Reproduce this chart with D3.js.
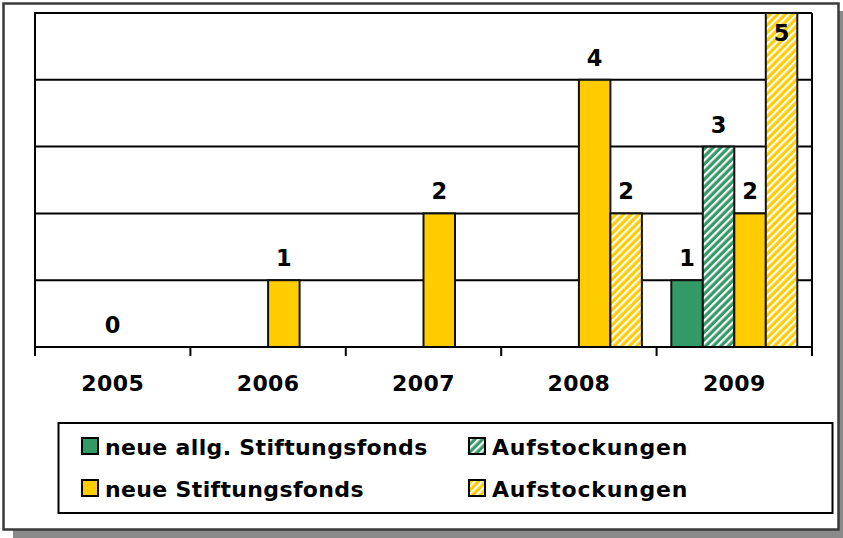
<!DOCTYPE html>
<html>
<head>
<meta charset="utf-8">
<script src="https://cdn.jsdelivr.net/npm/d3@7"></script>
<style>
  html, body { margin: 0; padding: 0; background: #ffffff; }
  svg { display: block; }
  text { font-family: "DejaVu Sans", Verdana, sans-serif; font-weight: bold; }
</style>
</head>
<body>
<svg id="chart" width="843" height="538"></svg>
<script>
// ---- data ----
const years = ["2005", "2006", "2007", "2008", "2009"];
const seriesIds = ["neueAllg", "aufstockAllg", "neue", "aufstockNeue"];
const seriesNames = ["neue allg. Stiftungsfonds", "Aufstockungen", "neue Stiftungsfonds", "Aufstockungen"];
const neueAllg     = [0, 0, 0, 0, 1];
const aufstockAllg = [0, 0, 0, 0, 3];
const neue         = [0, 1, 2, 4, 2];
const aufstockNeue = [0, 0, 0, 2, 5];
const yTicks = [0, 1, 2, 3, 4, 5];

// ---- styles ----
const green = "#339966", yellow = "#FFCC00";
const fills = {
  neueAllg: green,
  aufstockAllg: "url(#hatchGreen)",
  neue: yellow,
  aufstockNeue: "url(#hatchYellow)"
};
const valuesBySeries = { neueAllg, aufstockAllg, neue, aufstockNeue };

const svg = d3.select("#chart");
const defs = svg.append("defs");
function hatch(id, color) {
  const w = 5.4;
  const p = defs.append("pattern").attr("id", id)
    .attr("patternUnits", "userSpaceOnUse")
    .attr("width", w).attr("height", w)
    .attr("patternTransform", "rotate(45)");
  p.append("rect").attr("width", w).attr("height", w).attr("fill", color);
  p.append("rect").attr("x", 0).attr("width", 2.2).attr("height", w).attr("fill", "#ffffff");
}
hatch("hatchGreen", green);
hatch("hatchYellow", yellow);

// frame + shadow
svg.append("rect").attr("x", 13).attr("y", 11).attr("width", 840).attr("height", 540).attr("fill", "#8a8a8a");
svg.append("rect").attr("x", 3.5).attr("y", 3.5).attr("width", 835).attr("height", 526)
  .attr("fill", "#ffffff").attr("stroke", "#3a3a3a").attr("stroke-width", 2.5);

// ---- scales ----
const plotL = 35, plotR = 812, plotT = 13, plotB = 347;
const x0 = d3.scaleBand().domain(years).range([plotL, plotR]).padding(0);
const x1 = d3.scaleBand().domain(seriesIds).range([0, x0.bandwidth()]).paddingInner(0).paddingOuter(0.467);
const y = d3.scaleLinear().domain([0, 5]).range([plotB, plotT]);

// gridlines
const g = svg.append("g");
g.selectAll("line.grid").data(yTicks.filter(t => t > 0)).join("line")
  .attr("x1", plotL).attr("x2", plotR)
  .attr("y1", d => y(d)).attr("y2", d => y(d))
  .attr("stroke", "#000").attr("stroke-width", 2);
// right border
g.append("line").attr("x1", plotR).attr("x2", plotR).attr("y1", plotT).attr("y2", plotB)
  .attr("stroke", "#000").attr("stroke-width", 2);

// bars
const barData = [];
years.forEach((yr, i) => {
  seriesIds.forEach(s => barData.push({ year: yr, s, v: valuesBySeries[s][i] }));
});
svg.append("g").selectAll("rect").data(barData.filter(d => d.v > 0)).join("rect")
  .attr("x", d => x0(d.year) + x1(d.s))
  .attr("y", d => y(d.v))
  .attr("width", x1.bandwidth())
  .attr("height", d => y(0) - y(d.v))
  .attr("fill", d => fills[d.s])
  .attr("stroke", "#111").attr("stroke-width", 2);

// left axis line
svg.append("line").attr("x1", plotL).attr("x2", plotL).attr("y1", plotT - 1).attr("y2", plotB + 1)
  .attr("stroke", "#000").attr("stroke-width", 2);

// x axis
const xAxis = d3.axisBottom(x0).tickSize(0).tickPadding(0);
const ax = svg.append("g").attr("transform", `translate(0,${plotB})`).call(xAxis);
ax.select(".domain").remove();
ax.selectAll("text").attr("font-size", 22).attr("fill", "#000")
  .attr("dy", 0).attr("y", 44).attr("font-family", "DejaVu Sans").attr("font-weight", "bold")
  .attr("letter-spacing", 0.4);
svg.append("line").attr("x1", plotL - 1).attr("x2", plotR + 1).attr("y1", plotB).attr("y2", plotB)
  .attr("stroke", "#000").attr("stroke-width", 2);
const boundaries = years.map(d => x0(d)).concat([x0(years[years.length - 1]) + x0.bandwidth()]);
svg.append("g").selectAll("line").data(boundaries).join("line")
  .attr("x1", d => d).attr("x2", d => d).attr("y1", plotB).attr("y2", plotB + 9)
  .attr("stroke", "#000").attr("stroke-width", 2);

// value labels
const labels = svg.append("g").attr("font-size", 22.5).attr("text-anchor", "middle").attr("fill", "#000");
labels.selectAll("text.v").data(barData.filter(d => d.v > 0)).join("text")
  .attr("x", d => x0(d.year) + x1(d.s) + x1.bandwidth() / 2)
  .attr("y", d => Math.max(y(d.v) - 14, plotT + 28))
  .text(d => d.v);
// zero label for years with no bars
labels.selectAll("text.z").data(years.filter((yr, i) => seriesIds.every(s => valuesBySeries[s][i] === 0))).join("text")
  .attr("x", d => x0(d) + x0.bandwidth() / 2)
  .attr("y", y(0) - 14)
  .text("0");

// legend
const leg = svg.append("g");
leg.append("rect").attr("x", 58.5).attr("y", 423).attr("width", 774).attr("height", 90)
  .attr("fill", "#fff").attr("stroke", "#000").attr("stroke-width", 2);
const legPos = [
  { s: "neueAllg", x: 82, y: 438 },
  { s: "aufstockAllg", x: 469, y: 438 },
  { s: "neue", x: 82, y: 480 },
  { s: "aufstockNeue", x: 469, y: 480 }
];
legPos.forEach(p => {
  const idx = seriesIds.indexOf(p.s);
  leg.append("rect").attr("x", p.x).attr("y", p.y).attr("width", 16).attr("height", 16)
    .attr("fill", fills[p.s]).attr("stroke", "#000").attr("stroke-width", 2);
  leg.append("text").attr("x", p.x + 23).attr("y", p.y + 17).attr("font-size", 22)
    .attr("letter-spacing", p.s.startsWith("aufstock") ? 0.75 : 0.35)
    .attr("fill", "#000").text(seriesNames[idx]);
});
</script>
</body>
</html>
